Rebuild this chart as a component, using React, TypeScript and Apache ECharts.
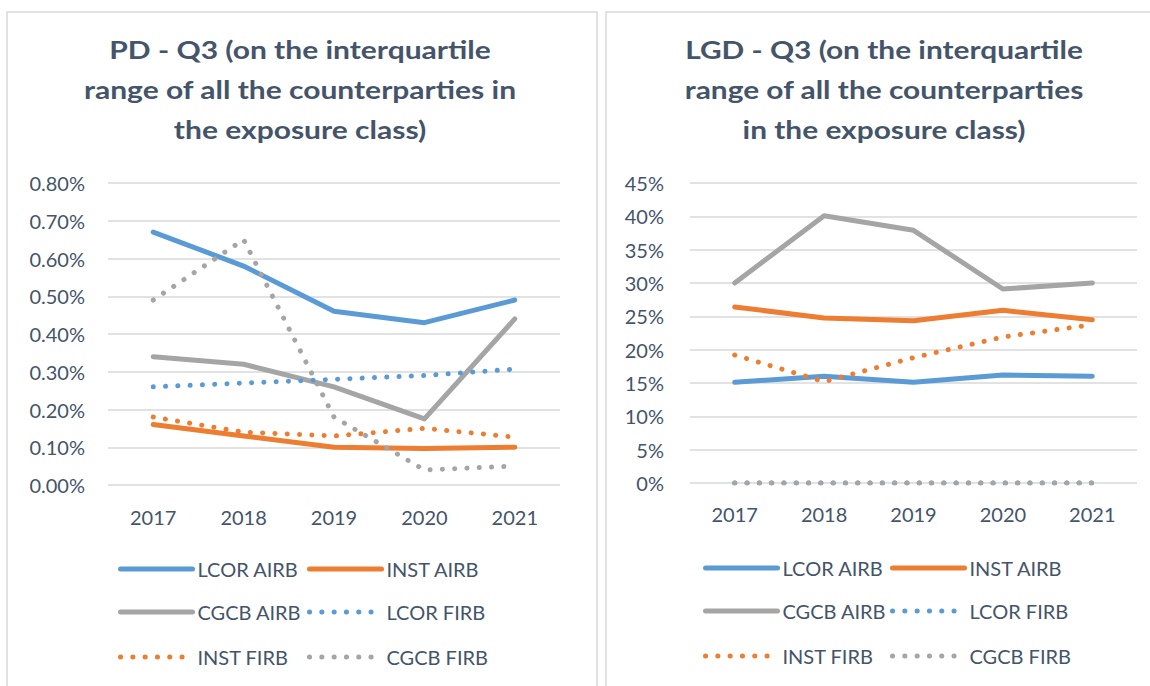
import React, { useEffect, useRef } from "react";
import * as echarts from "echarts";

const years = ["2017", "2018", "2019", "2020", "2021"];
const seriesNames = ["LCOR AIRB", "INST AIRB", "CGCB AIRB", "LCOR FIRB", "INST FIRB", "CGCB FIRB"];

// PD - Q3 values (in %)
const pdLcorAirb = [0.67, 0.58, 0.46, 0.43, 0.49];
const pdInstAirb = [0.16, 0.13, 0.10, 0.097, 0.10];
const pdCgcbAirb = [0.34, 0.32, 0.26, 0.175, 0.44];
const pdLcorFirb = [0.26, 0.27, 0.28, 0.29, 0.307];
const pdInstFirb = [0.18, 0.14, 0.13, 0.15, 0.127];
const pdCgcbFirb = [0.49, 0.65, 0.18, 0.04, 0.05];

// LGD - Q3 values (in %)
const lgdLcorAirb = [15.1, 16.0, 15.1, 16.2, 16.0];
const lgdInstAirb = [26.4, 24.75, 24.35, 25.9, 24.5];
const lgdCgcbAirb = [30.0, 40.1, 37.9, 29.1, 30.0];
const lgdLcorFirb = [0, 0, 0, 0, 0];
const lgdInstFirb = [19.2, 15.2, 18.8, 21.9, 23.75];
const lgdCgcbFirb = [0, 0, 0, 0, 0];

const pdTitle = "PD - Q3 (on the interquartile\nrange of all the counterparties in\nthe exposure class)";
const lgdTitle = "LGD - Q3 (on the interquartile\nrange of all the counterparties\nin the exposure class)";

const BLUE = "#5B9BD5";
const ORANGE = "#ED7D31";
const GREY = "#A5A5A5";
const TEXT = "#44546A";
const FONT = "Lato";

const colors = [BLUE, ORANGE, GREY, BLUE, ORANGE, GREY];
const dotted = [false, false, false, true, true, true];

export default function App() {
  const ref = useRef<HTMLDivElement>(null);
  useEffect(() => {
    if (!ref.current) return;
    const chart = echarts.init(ref.current, undefined, { renderer: "svg" });
    const pdData = [pdLcorAirb, pdInstAirb, pdCgcbAirb, pdLcorFirb, pdInstFirb, pdCgcbFirb];
    const lgdData = [lgdLcorAirb, lgdInstAirb, lgdCgcbAirb, lgdLcorFirb, lgdInstFirb, lgdCgcbFirb];

    const lineStyleFor = (i: number) => ({
      color: colors[i],
      width: 5,
      cap: "round",
      join: "round",
      type: dotted[i] ? [0.1, 12.2] : "solid",
    });

    const makeSeries = (data: number[][], gi: number) =>
      data.map((d, i) => ({
        name: seriesNames[i],
        type: "line",
        xAxisIndex: gi,
        yAxisIndex: gi,
        data: d,
        symbol: "none",
        showSymbol: false,
        lineStyle: lineStyleFor(i),
        itemStyle: { color: colors[i] },
        z: 2 + i,
      }));

    const legendCols = [
      [118, 307],
      [703, 890],
    ];
    const legendRows = [
      [569, 612, 657],
      [568, 611, 656],
    ];
    const legends: any[] = [];
    for (let g = 0; g < 2; g++) {
      seriesNames.forEach((n, i) => {
        const r = Math.floor(i / 2);
        const c = i % 2;
        legends.push({
          data: [n],
          left: legendCols[g][c],
          top: legendRows[g][r] - 12,
          padding: 0,
          itemWidth: 72,
          itemHeight: 10,
          itemGap: 5,
          selectedMode: false,
          textStyle: { fontSize: 20, color: TEXT, fontFamily: FONT, lineHeight: 24 },
          itemStyle: { opacity: 0 },
          lineStyle: { width: 5, type: dotted[i] ? [0.1, 12.2] : "solid", cap: "round", color: colors[i], opacity: 1 },
        });
      });
    }

    const axisLabel = { fontSize: 20, color: TEXT, fontFamily: FONT };

    const titleStyle = {
      align: "center",
      verticalAlign: "top",
      fontSize: 24,
      fontWeight: "bold",
      fontFamily: FONT,
      lineHeight: 40,
      fill: TEXT,
    };

    chart.setOption({
      animation: false,
      backgroundColor: "#ffffff",
      textStyle: { fontFamily: FONT },
      graphic: [
        {
          type: "rect",
          shape: { x: 7, y: 12, width: 590, height: 700 },
          style: { fill: "none", stroke: "#D9D9D9", lineWidth: 1.5 },
          silent: true,
        },
        {
          type: "rect",
          shape: { x: 606, y: 12, width: 600, height: 700 },
          style: { fill: "none", stroke: "#D9D9D9", lineWidth: 1.5 },
          silent: true,
        },
        {
          type: "text",
          x: 300,
          y: 30,
          scaleX: 1.25,
          style: { ...titleStyle, text: pdTitle },
        },
        {
          type: "text",
          x: 884,
          y: 30,
          scaleX: 1.245,
          style: { ...titleStyle, text: lgdTitle },
        },
      ],
      legend: legends,
      grid: [
        { left: 108, width: 452, top: 183, height: 302 },
        { left: 690, width: 447, top: 183, height: 300 },
      ],
      xAxis: [0, 1].map((g) => ({
        type: "category",
        gridIndex: g,
        data: years,
        boundaryGap: true,
        axisLine: { show: false },
        axisTick: { show: false },
        axisLabel: { ...axisLabel, margin: g === 0 ? 22 : 21 },
      })),
      yAxis: [
        {
          type: "value",
          gridIndex: 0,
          min: 0,
          max: 0.8,
          interval: 0.1,
          axisLine: { show: false },
          axisTick: { show: false },
          splitLine: { lineStyle: { color: "#D9D9D9", width: 1.5 } },
          axisLabel: { ...axisLabel, margin: 23, formatter: (v: number) => v.toFixed(2) + "%" },
        },
        {
          type: "value",
          gridIndex: 1,
          min: 0,
          max: 45,
          interval: 5,
          axisLine: { show: false },
          axisTick: { show: false },
          splitLine: { lineStyle: { color: "#D9D9D9", width: 1.5 } },
          axisLabel: { ...axisLabel, margin: 26, formatter: (v: number) => Math.round(v) + "%" },
        },
      ],
      series: [...makeSeries(pdData, 0), ...makeSeries(lgdData, 1)],
    });
    return () => chart.dispose();
  }, []);
  return (
    <div
      ref={ref}
      style={{ position: "absolute", left: 0, top: 0, width: 1150, height: 686, background: "#fff" }}
    />
  );
}
